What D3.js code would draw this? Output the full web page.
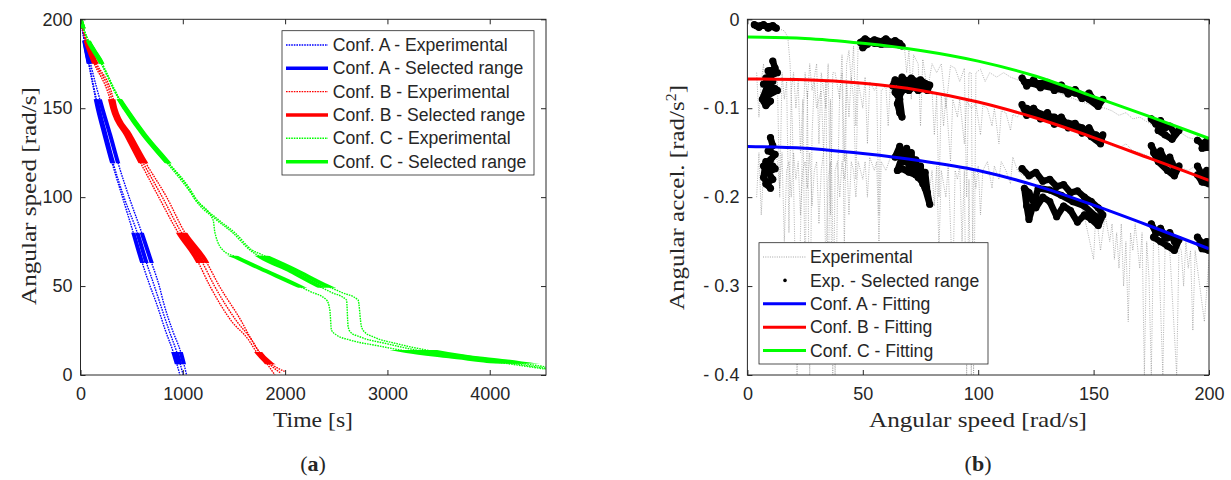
<!DOCTYPE html>
<html>
<head>
<meta charset="utf-8">
<script src="https://cdn.jsdelivr.net/npm/d3@7"></script>
<style>
  body { margin: 0; background: #fff; }
  svg text { font-family: "Liberation Sans", Arial, sans-serif; fill: #262626; }
  svg .lbl { font-family: "Liberation Serif", "Times New Roman", serif; }
</style>
</head>
<body>
<svg id="chart" width="1231" height="480"></svg>
<script>
// ---------- panel (a): angular speed [rad/s] vs time [s], three runs per configuration
var confA_run1 = [[0,200],[30,190],[80,175],[168,150],[235,135],[305,120],[410,100],[516,80],[598,64],[680,50],[744,40],[830,25],[906,13],[972,0]];
var confA_run2 = [[0,200],[32,190],[84,175],[176,150],[245,135],[315,120],[425,100],[555,80],[640,64],[722,50],[779,40],[866,25],[940,13],[1004,0]];
var confA_run3 = [[0,200],[38,190],[98,175],[213,150],[290,135],[363,120],[475,100],[598,80],[690,64],[770,50],[815,40],[900,25],[979,13],[1037,0]];

var confB_run1 = [[0,200],[40,190],[120,177],[288,155],[310,150],[445,135],[581,120],[765,100],[955,80],[1135,65],[1265,50],[1480,30],[1640,20],[1720,13],[1800,8],[1900,0]];
var confB_run2 = [[0,200],[44,190],[130,177],[305,155],[325,150],[465,135],[605,120],[800,100],[988,80],[1175,65],[1310,50],[1530,30],[1670,20],[1745,13],[1850,6],[1960,1]];
var confB_run3 = [[0,200],[48,190],[140,177],[321,155],[340,150],[485,135],[630,120],[842,100],[1021,80],[1216,65],[1357,50],[1575,30],[1660,21],[1735,14],[1870,6],[1995,2]];

var confC_run1 = [[0,200],[58,190],[185,177],[375,155],[430,150],[614,135],[835,120],[1045,105],[1120,99],[1297,87],[1314,80],[1395,70],[1509,66.6],[1753,60],[2112,50.6],[2242,47],[2405,42.2],[2437,36.6],[2453,25.3],[2502,22.5],[2632,19.7],[2900,16.5],[3185,13.5],[3600,10.5],[4097,7],[4546,3.3]];
var confC_run2 = [[0,200],[60,190],[190,177],[380,155],[436,150],[622,135],[842,120],[1055,105],[1110,99.5],[1330,87.2],[1493,79.7],[1655,70.3],[1753,66.6],[2050,58.5],[2307,50.6],[2450,46.5],[2600,42.2],[2616,27.2],[2640,24],[2730,21.5],[3000,17.5],[3300,13.8],[3700,10.5],[4100,7.5],[4546,3.8]];
var confC_run3 = [[0,200],[62,190],[195,177],[385,155],[442,150],[630,135],[850,120],[1065,105],[1125,99.5],[1350,87.2],[1515,79.7],[1675,70.3],[1760,68],[2100,59],[2388,50.6],[2550,46.5],[2713,42.2],[2746,27.2],[2780,24],[2860,21.5],[3100,17.5],[3400,13.8],[3800,10],[4150,7.8],[4546,4.6]];

// speed windows used for the fitting (thick parts)
var selRangeA = [[175,188],[195,200],[119,155],[63,80],[6,13]];
var selRangeB = [[175,188],[195,200],[119,155],[63,80],[6,13]];
var selRangeC = [[175,188],[195,200],[119,155],[49,67],[6.5,14]];

var timeTicks = [0,1000,2000,3000,4000];
var speedTicks = [0,50,100,150,200];
var legendLabelsA = ["Conf. A - Experimental","Conf. A - Selected range","Conf. B - Experimental","Conf. B - Selected range","Conf. C - Experimental","Conf. C - Selected range"];

// ---------- panel (b): angular acceleration [rad/s^2] vs angular speed [rad/s]
var fitSpeed = [0,25,50,75,100,125,150,175,200];
var fitA = [-0.143,-0.145,-0.151,-0.159,-0.170,-0.187,-0.209,-0.233,-0.258];
var fitB = [-0.067,-0.068,-0.072,-0.080,-0.093,-0.111,-0.133,-0.157,-0.181];
var fitC = [-0.020,-0.0215,-0.027,-0.035,-0.047,-0.064,-0.087,-0.110,-0.134];

var expA = [[4,-0.2],[5,-0.15],[6,-0.22],[7,-0.17],[8,-0.16],[10,-0.19],[12,-0.15],[13,-0.16],[14,-0.19],[15,-0.15],[16,-0.25],[17,-0.17],[18,-0.16],[19,-0.2],[20,-0.15],[21,-0.18],[22,-0.16],[23,-0.22],[24,-0.17],[25,-0.16],[26,-0.19],[27,-0.15],[28,-0.21],[29,-0.17],[30,-0.16],[31,-0.23],[32,-0.17],[33,-0.15],[34,-0.28],[35,-0.18],[36,-0.16],[37,-0.4],[38,-0.17],[39,-0.16],[40,-0.2],[41,-0.16],[42,-0.18],[43,-0.15],[44,-0.22],[45,-0.16],[46,-0.17],[47,-0.2],[48,-0.16],[50,-0.18],[51,-0.16],[52,-0.2],[53,-0.155],[55,-0.17],[56,-0.16],[57,-0.25],[58,-0.16],[60,-0.17],[62,-0.155],[64,-0.16],[67,-0.15],[70,-0.165],[73,-0.17],[76,-0.18],[79,-0.19],[80,-0.17],[81,-0.21],[82,-0.165],[83,-0.26],[84,-0.17],[86,-0.2],[87,-0.165],[89,-0.3],[90,-0.17],[91,-0.18],[92,-0.165],[93,-0.25],[94,-0.17],[95,-0.4],[96,-0.18],[97,-0.4],[98,-0.17],[99,-0.19],[100,-0.165],[101,-0.22],[102,-0.17],[104,-0.16],[106,-0.19],[107,-0.165],[109,-0.18],[110,-0.16],[112,-0.17],[114,-0.185],[115,-0.155],[117,-0.17],[119,-0.175],[125,-0.18],[130,-0.19],[135,-0.2],[140,-0.205],[145,-0.21],[150,-0.27],[151,-0.215],[153,-0.26],[155,-0.22],[157,-0.25],[158,-0.23],[159,-0.27],[160,-0.24],[161,-0.28],[162,-0.23],[163,-0.3],[164,-0.25],[165,-0.34],[166,-0.24],[167,-0.26],[168,-0.23],[170,-0.28],[171,-0.24],[172,-0.4],[173,-0.25],[174,-0.29],[175,-0.4],[176,-0.24],[178,-0.245],[180,-0.4],[181,-0.25],[183,-0.26],[186,-0.4],[187,-0.255],[188,-0.26],[189,-0.3],[190,-0.25],[191,-0.28],[192,-0.26],[193,-0.35],[194,-0.26],[196,-0.3],[198,-0.34],[200,-0.27]];
var expB = [[4,-0.06],[5,-0.11],[6,-0.07],[7,-0.05],[8,-0.09],[10,-0.06],[12,-0.08],[13,-0.07],[14,-0.2],[15,-0.06],[16,-0.09],[17,-0.07],[18,-0.24],[19,-0.08],[20,-0.06],[21,-0.1],[22,-0.07],[23,-0.15],[24,-0.09],[25,-0.3],[26,-0.08],[27,-0.4],[28,-0.13],[29,-0.07],[30,-0.1],[32,-0.08],[33,-0.15],[34,-0.07],[35,-0.33],[36,-0.09],[38,-0.4],[39,-0.2],[40,-0.08],[41,-0.06],[42,-0.26],[43,-0.07],[44,-0.11],[45,-0.065],[46,-0.09],[47,-0.18],[48,-0.07],[50,-0.1],[51,-0.065],[52,-0.14],[53,-0.07],[55,-0.08],[56,-0.075],[57,-0.22],[58,-0.08],[60,-0.075],[61,-0.12],[62,-0.07],[63,-0.068],[66,-0.075],[69,-0.07],[72,-0.074],[75,-0.072],[78,-0.076],[80,-0.08],[81,-0.13],[82,-0.085],[83,-0.2],[84,-0.085],[85,-0.12],[86,-0.087],[88,-0.16],[89,-0.09],[91,-0.11],[92,-0.09],[94,-0.14],[95,-0.092],[97,-0.1],[99,-0.095],[101,-0.13],[102,-0.097],[104,-0.1],[106,-0.12],[107,-0.1],[109,-0.14],[110,-0.103],[112,-0.105],[114,-0.125],[115,-0.107],[117,-0.11],[119,-0.1],[125,-0.108],[130,-0.113],[135,-0.118],[140,-0.125],[145,-0.13],[150,-0.134],[155,-0.138],[158,-0.142],[161,-0.145],[164,-0.14],[167,-0.148],[170,-0.15],[173,-0.153],[176,-0.158],[180,-0.16],[184,-0.165],[188,-0.167],[191,-0.17],[194,-0.165],[197,-0.175],[200,-0.18]];
var expC = [[3,-0.006],[6,-0.008],[9,-0.007],[12,-0.009],[14,-0.011],[16,-0.013],[17.5,-0.02],[18.5,-0.05],[19.5,-0.12],[20.5,-0.25],[21.5,-0.4],[22.5,-0.3],[24,-0.12],[25,-0.06],[26,-0.09],[27,-0.05],[28,-0.08],[30,-0.05],[31,-0.14],[32,-0.06],[34,-0.1],[35,-0.05],[36,-0.22],[37,-0.06],[38,-0.06],[40,-0.09],[41,-0.04],[42,-0.16],[43,-0.05],[44,-0.035],[45,-0.07],[46,-0.03],[47,-0.12],[48,-0.028],[50,-0.025],[55,-0.024],[60,-0.025],[65,-0.026],[67,-0.028],[68,-0.03],[69,-0.06],[70,-0.035],[71,-0.09],[72,-0.04],[74,-0.05],[75,-0.12],[76,-0.045],[78,-0.08],[80,-0.05],[82,-0.06],[84,-0.05],[86,-0.1],[88,-0.052],[90,-0.055],[92,-0.07],[94,-0.055],[95,-0.2],[96,-0.06],[97,-0.06],[98,-0.4],[99,-0.06],[101,-0.056],[103,-0.07],[105,-0.06],[108,-0.065],[111,-0.06],[114,-0.065],[117,-0.068],[119,-0.07],[125,-0.075],[130,-0.078],[135,-0.083],[140,-0.088],[145,-0.093],[150,-0.097],[155,-0.1],[158,-0.103],[161,-0.108],[164,-0.105],[167,-0.112],[170,-0.11],[173,-0.115],[176,-0.12],[180,-0.125],[184,-0.13],[188,-0.128],[191,-0.133],[194,-0.135],[197,-0.14],[200,-0.143]];

// selected-range samples (black dots), one list per cluster
var selPtsA = [
  [[10,-0.133],[11,-0.142],[9,-0.148],[12,-0.152],[10,-0.158],[7,-0.165],[12,-0.168],[9,-0.172],[11,-0.18],[8,-0.185],[10,-0.19],[7,-0.178],[8,-0.16],[11,-0.165]],
  [[64,-0.155],[66,-0.143],[68,-0.16],[69,-0.145],[70,-0.165],[71,-0.15],[72,-0.17],[73,-0.158],[74,-0.178],[75,-0.165],[76,-0.185],[77,-0.172],[78,-0.195],[79,-0.208],[77,-0.19],[75,-0.18],[73,-0.175],[70,-0.172],[67,-0.168],[65,-0.17],[67,-0.155],[71,-0.16],[75,-0.172]],
  [[119,-0.168],[122,-0.176],[125,-0.172],[128,-0.182],[131,-0.18],[134,-0.188],[137,-0.186],[140,-0.195],[143,-0.193],[146,-0.2],[149,-0.205],[152,-0.212],[154,-0.22],[152,-0.232],[149,-0.225],[146,-0.22],[143,-0.228],[140,-0.215],[137,-0.21],[134,-0.222],[131,-0.205],[128,-0.2],[125,-0.212],[122,-0.195],[120,-0.19],[121,-0.21],[122,-0.225],[126,-0.19],[131,-0.192],[136,-0.198],[141,-0.205],[146,-0.21],[151,-0.222]],
  [[175,-0.23],[177,-0.24],[179,-0.235],[181,-0.245],[183,-0.24],[185,-0.25],[187,-0.248],[185,-0.26],[182,-0.255],[179,-0.25],[176,-0.245],[178,-0.238],[182,-0.246]],
  [[195,-0.245],[197,-0.252],[199,-0.25],[200,-0.26],[197,-0.258],[196,-0.252]]
];
var selPtsB = [
  [[11,-0.047],[12,-0.055],[9,-0.058],[13,-0.06],[8,-0.066],[11,-0.07],[7,-0.073],[12,-0.078],[9,-0.082],[13,-0.08],[7,-0.088],[10,-0.092],[8,-0.097],[6.5,-0.09],[10,-0.065],[10,-0.078]],
  [[63,-0.075],[64,-0.068],[66,-0.072],[67,-0.065],[69,-0.07],[71,-0.066],[73,-0.07],[75,-0.068],[77,-0.072],[79,-0.074],[78,-0.08],[76,-0.077],[74,-0.08],[72,-0.076],[70,-0.08],[68,-0.078],[66,-0.085],[65,-0.095],[66,-0.105],[67,-0.11],[66,-0.09],[64,-0.082],[68,-0.072],[72,-0.072],[76,-0.073]],
  [[119,-0.096],[121,-0.108],[124,-0.1],[127,-0.112],[130,-0.105],[133,-0.118],[136,-0.11],[139,-0.122],[142,-0.117],[145,-0.128],[148,-0.122],[151,-0.135],[154,-0.13],[153,-0.14],[149,-0.132],[145,-0.122],[141,-0.118],[137,-0.115],[133,-0.11],[129,-0.108],[125,-0.104],[121,-0.1],[123,-0.106],[128,-0.11],[134,-0.115],[140,-0.121],[146,-0.126],[151,-0.13]],
  [[175,-0.142],[177,-0.152],[179,-0.148],[181,-0.16],[183,-0.155],[185,-0.168],[187,-0.165],[185,-0.176],[182,-0.17],[178,-0.16],[176,-0.15],[180,-0.155],[184,-0.162]],
  [[195,-0.165],[197,-0.175],[199,-0.17],[200,-0.185],[197,-0.183],[195,-0.175],[198,-0.178]]
];
var selPtsC = [
  [[3,-0.006],[5,-0.009],[7,-0.006],[9,-0.01],[11,-0.007],[12.5,-0.01],[10,-0.008],[6,-0.007],[4,-0.0075]],
  [[49,-0.026],[51,-0.022],[53,-0.025],[50,-0.032],[52,-0.028],[55,-0.023],[58,-0.025],[60,-0.022],[62,-0.026],[64,-0.024],[66,-0.027],[67,-0.03],[64,-0.028],[58,-0.028],[55,-0.027]],
  [[119,-0.066],[121,-0.075],[124,-0.068],[127,-0.077],[130,-0.071],[133,-0.08],[136,-0.074],[139,-0.084],[142,-0.079],[145,-0.089],[148,-0.083],[151,-0.094],[154,-0.09],[152,-0.098],[148,-0.09],[144,-0.084],[140,-0.08],[136,-0.078],[132,-0.075],[128,-0.072],[124,-0.072],[120,-0.07],[126,-0.074],[134,-0.078],[142,-0.083],[149,-0.088]],
  [[175,-0.112],[177,-0.118],[179,-0.114],[181,-0.122],[183,-0.12],[185,-0.128],[187,-0.125],[184,-0.135],[181,-0.13],[178,-0.125],[180,-0.12]],
  [[195,-0.136],[197,-0.14],[199,-0.137],[200,-0.144],[197,-0.145]]
];

var speedTicksB = [0,50,100,150,200];
var accelTicks = [-0.4,-0.3,-0.2,-0.1,0];
var legendLabelsB = ["Experimental","Exp. - Selected range","Conf. A - Fitting","Conf. B - Fitting","Conf. C - Fitting"];

var BLUE = "#0000ff", RED = "#ff0000", GREEN = "#00ff00", AXIS = "#262626", GREY = "#7d7d7d";

var svg = d3.select("#chart");
var defs = svg.append("defs");

// scales
var xT = d3.scaleLinear().domain([0, 4550]).range([80.5, 546]);
var yW = d3.scaleLinear().domain([0, 200]).range([375, 19.3]);
var xS = d3.scaleLinear().domain([0, 200]).range([747.4, 1209]);
var yA = d3.scaleLinear().domain([-0.4, 0]).range([375, 19.3]);

function plotClip(id, x, y) {
  defs.append("clipPath").attr("id", id).append("rect")
    .attr("x", x.range()[0]).attr("y", y.range()[1])
    .attr("width", x.range()[1] - x.range()[0])
    .attr("height", y.range()[0] - y.range()[1]);
}
plotClip("clipA", xT, yW);
plotClip("clipB", xS, yA);

// clip bands for the selected speed windows
function rangeClip(id, ranges) {
  var cp = defs.append("clipPath").attr("id", id);
  ranges.forEach(function (r) {
    cp.append("rect")
      .attr("x", xT.range()[0]).attr("width", xT.range()[1] - xT.range()[0])
      .attr("y", yW(r[1])).attr("height", yW(r[0]) - yW(r[1]));
  });
}
rangeClip("selA", selRangeA);
rangeClip("selB", selRangeB);
rangeClip("selC", selRangeC);

// ---------------- axis labels and captions (drawn first, under everything)
function label(x, y, len, rot) {
  return svg.append("text").attr("class", "lbl")
    .attr("transform", "translate(" + x + "," + y + ")" + (rot ? " rotate(-90)" : ""))
    .attr("text-anchor", "middle").attr("font-size", 22)
    .attr("textLength", len).attr("lengthAdjust", "spacingAndGlyphs");
}
label(313, 427, 80).text("Time [s]");
label(978, 427, 218).text("Angular speed [rad/s]");
label(36, 196, 218, true).text("Angular speed [rad/s]");
var yl = label(684, 197.5, 225, true);
yl.append("tspan").text("Angular accel.  [rad/s");
yl.append("tspan").attr("dy", -8).attr("font-size", 14).text("2");
yl.append("tspan").attr("dy", 8).text("]");

function caption(x, letter) {
  var t = svg.append("text").attr("class", "lbl").attr("x", x).attr("y", 471)
    .attr("text-anchor", "middle").attr("font-size", 22);
  t.append("tspan").text("(");
  t.append("tspan").attr("font-weight", "bold").text(letter);
  t.append("tspan").text(")");
}
caption(313, "a");
caption(978, "b");

function drawAxes(x, y, xticks, yticks, yfmt) {
  var g = svg.append("g");
  g.append("g").attr("transform", "translate(0," + y.range()[0] + ")")
    .call(d3.axisBottom(x).tickValues(xticks).tickSize(-5).tickSizeOuter(0).tickPadding(12).tickFormat(d3.format("d")));
  g.append("g").attr("transform", "translate(" + x.range()[0] + ",0)")
    .call(d3.axisLeft(y).tickValues(yticks).tickSize(-5).tickSizeOuter(0).tickPadding(8).tickFormat(yfmt));
  g.append("g").attr("transform", "translate(0," + y.range()[1] + ")")
    .call(d3.axisTop(x).tickValues(xticks).tickSize(-5).tickSizeOuter(0).tickFormat(""));
  g.append("g").attr("transform", "translate(" + x.range()[1] + ",0)")
    .call(d3.axisRight(y).tickValues(yticks).tickSize(-5).tickSizeOuter(0).tickFormat(""));
  g.selectAll(".domain").remove();
  g.selectAll(".tick line").attr("stroke", AXIS);
  g.selectAll(".tick text").attr("font-size", 18).attr("fill", AXIS);
  g.append("rect")
    .attr("x", x.range()[0]).attr("y", y.range()[1])
    .attr("width", x.range()[1] - x.range()[0]).attr("height", y.range()[0] - y.range()[1])
    .attr("fill", "none").attr("stroke", AXIS).attr("stroke-width", 1);
}

// ---------------- panel (a)
var lineT = d3.line().x(function (d) { return xT(d[0]); }).y(function (d) { return yW(d[1]); })
  .curve(d3.curveMonotoneX);

var confsA = [
  { runs: [confA_run1, confA_run2, confA_run3], color: BLUE, clip: "selA" },
  { runs: [confB_run1, confB_run2, confB_run3], color: RED, clip: "selB" },
  { runs: [confC_run1, confC_run2, confC_run3], color: GREEN, clip: "selC" }
];

var gA = svg.append("g").attr("clip-path", "url(#clipA)");
confsA.forEach(function (c) {
  c.runs.forEach(function (run) {
    gA.append("path").attr("d", lineT(run))
      .attr("fill", "none").attr("stroke", c.color)
      .attr("stroke-width", 1.4).attr("stroke-dasharray", "1.6,1");
  });
  var gs = gA.append("g").attr("clip-path", "url(#" + c.clip + ")");
  c.runs.forEach(function (run) {
    gs.append("path").attr("d", lineT(run))
      .attr("fill", "none").attr("stroke", c.color).attr("stroke-width", 4);
  });
});

drawAxes(xT, yW, timeTicks, speedTicks, d3.format("d"));

// legend (a)
var legA = svg.append("g");
legA.append("rect").attr("x", 282).attr("y", 30.7).attr("width", 252).attr("height", 144.3)
  .attr("fill", "#fff").attr("stroke", AXIS).attr("stroke-width", 0.8);
var legColorsA = [BLUE, BLUE, RED, RED, GREEN, GREEN];
legendLabelsA.forEach(function (lab, i) {
  var yy = 45 + i * 23.33;
  var thick = i % 2 === 1;
  legA.append("line").attr("x1", 286).attr("x2", 328).attr("y1", yy).attr("y2", yy)
    .attr("stroke", legColorsA[i]).attr("stroke-width", thick ? 3.5 : 1.4)
    .attr("stroke-dasharray", thick ? null : "1.6,1");
  legA.append("text").attr("x", 332.7).attr("y", yy).attr("dy", "0.35em")
    .attr("font-size", 17.6).text(lab);
});

// ---------------- panel (b)
var gB = svg.append("g").attr("clip-path", "url(#clipB)");
var lineS = d3.line().x(function (d) { return xS(d[0]); }).y(function (d) { return yA(d[1]); });

[expA, expB, expC].forEach(function (s) {
  gB.append("path").attr("d", lineS(s)).attr("fill", "none")
    .attr("stroke", GREY).attr("stroke-width", 0.6).attr("stroke-dasharray", "1,1.3");
});

[selPtsA, selPtsB, selPtsC].forEach(function (clusters) {
  clusters.forEach(function (pts) {
    gB.append("path").attr("d", lineS(pts)).attr("fill", "none")
      .attr("stroke", "#000").attr("stroke-width", 6.5)
      .attr("stroke-linejoin", "round").attr("stroke-linecap", "round");
    gB.selectAll(null).data(pts).enter().append("circle")
      .attr("cx", function (d) { return xS(d[0]); }).attr("cy", function (d) { return yA(d[1]); })
      .attr("r", 3.6).attr("fill", "#000");
  });
});

var fitLine = d3.line().x(function (d, i) { return xS(fitSpeed[i]); }).y(function (d) { return yA(d); })
  .curve(d3.curveMonotoneX);
[[fitA, BLUE], [fitB, RED], [fitC, GREEN]].forEach(function (f) {
  gB.append("path").attr("d", fitLine(f[0])).attr("fill", "none")
    .attr("stroke", f[1]).attr("stroke-width", 3);
});

drawAxes(xS, yA, speedTicksB, accelTicks, function (d) {
  return d === 0 ? "0" : "- " + d3.format(".1f")(Math.abs(d));
});

// legend (b)
var legB = svg.append("g");
legB.append("rect").attr("x", 759).attr("y", 242.7).attr("width", 229).attr("height", 121.3)
  .attr("fill", "#fff").attr("stroke", AXIS).attr("stroke-width", 0.8);
legendLabelsB.forEach(function (lab, i) {
  var yy = 257 + i * 23.4;
  if (i === 0) {
    legB.append("line").attr("x1", 763).attr("x2", 806).attr("y1", yy).attr("y2", yy)
      .attr("stroke", GREY).attr("stroke-width", 0.7).attr("stroke-dasharray", "1,1.3");
  } else if (i === 1) {
    legB.append("circle").attr("cx", 785).attr("cy", yy).attr("r", 1.8).attr("fill", "#000");
  } else {
    legB.append("line").attr("x1", 763).attr("x2", 806).attr("y1", yy).attr("y2", yy)
      .attr("stroke", [BLUE, RED, GREEN][i - 2]).attr("stroke-width", 3);
  }
  legB.append("text").attr("x", 810).attr("y", yy).attr("dy", "0.35em")
    .attr("font-size", 17.6).text(lab);
});
</script>
</body>
</html>
